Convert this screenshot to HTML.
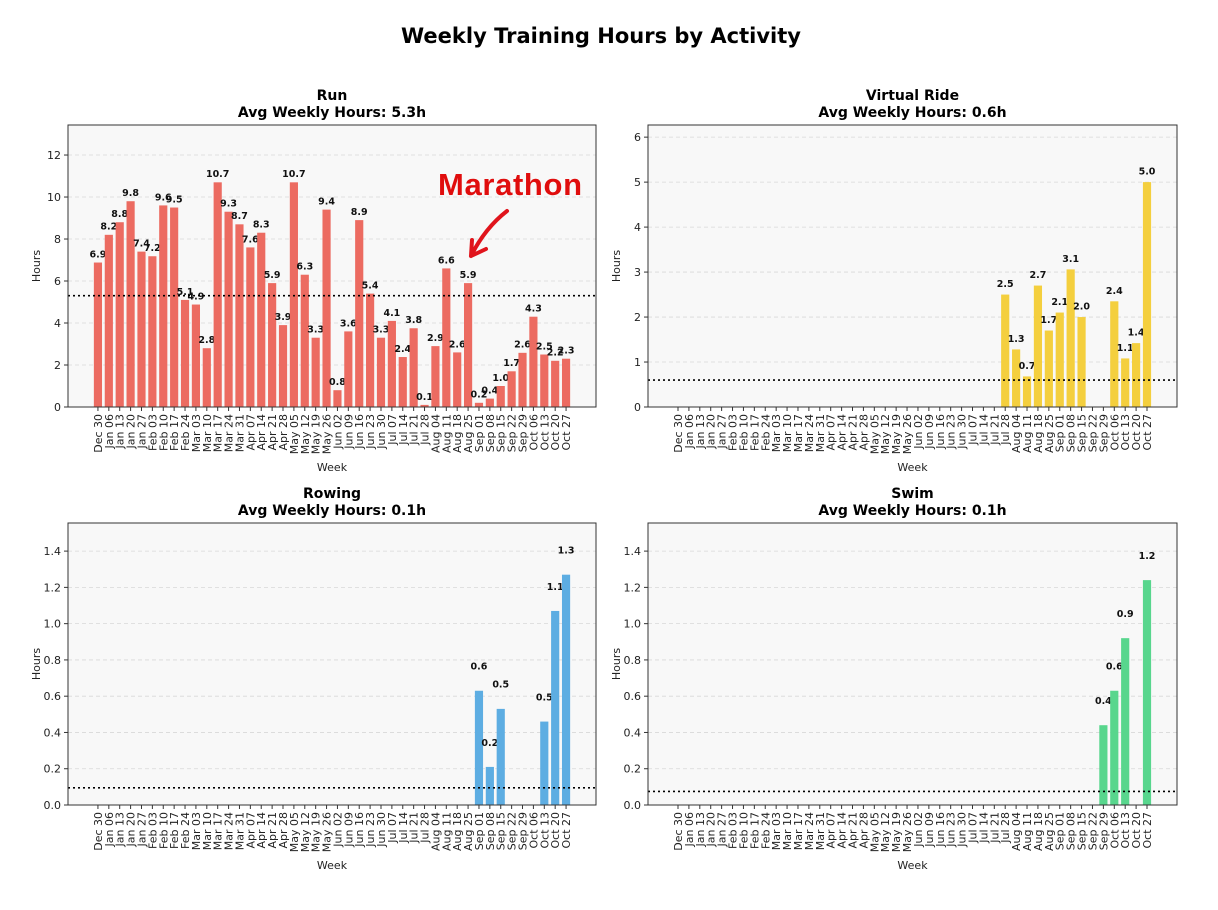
<!DOCTYPE html>
<html><head><meta charset="utf-8"><style>
body{margin:0;background:#fff;}
svg{display:block;font-family:"DejaVu Sans","Liberation Sans",sans-serif;}
</style></head><body>
<svg id="fig" width="1218" height="910" viewBox="0 0 1218 910">
<text x="601" y="43" text-anchor="middle" font-size="21" font-weight="bold">Weekly Training Hours by Activity</text>
</svg>
<script>
const weeks = ["Dec 30","Jan 06","Jan 13","Jan 20","Jan 27","Feb 03","Feb 10","Feb 17","Feb 24","Mar 03","Mar 10","Mar 17","Mar 24","Mar 31","Apr 07","Apr 14","Apr 21","Apr 28","May 05","May 12","May 19","May 26","Jun 02","Jun 09","Jun 16","Jun 23","Jun 30","Jul 07","Jul 14","Jul 21","Jul 28","Aug 04","Aug 11","Aug 18","Aug 25","Sep 01","Sep 08","Sep 15","Sep 22","Sep 29","Oct 06","Oct 13","Oct 20","Oct 27"];
const runHours = [6.88,8.2,8.8,9.8,7.4,7.18,9.6,9.5,5.1,4.88,2.8,10.7,9.3,8.7,7.6,8.3,5.9,3.9,10.7,6.3,3.3,9.4,0.8,3.6,8.9,5.4,3.3,4.1,2.38,3.75,0.1,2.9,6.6,2.6,5.9,0.2,0.4,1.0,1.7,2.58,4.3,2.5,2.2,2.3];
const rideHours = [0,0,0,0,0,0,0,0,0,0,0,0,0,0,0,0,0,0,0,0,0,0,0,0,0,0,0,0,0,0,2.5,1.28,0.68,2.7,1.7,2.1,3.06,2.0,0,0,2.35,1.08,1.42,5.0];
const rowHours = [0,0,0,0,0,0,0,0,0,0,0,0,0,0,0,0,0,0,0,0,0,0,0,0,0,0,0,0,0,0,0,0,0,0,0,0.63,0.21,0.53,0,0,0,0.46,1.07,1.27];
const swimHours = [0,0,0,0,0,0,0,0,0,0,0,0,0,0,0,0,0,0,0,0,0,0,0,0,0,0,0,0,0,0.44,0.63,0.92,0,1.24].length ? [0,0,0,0,0,0,0,0,0,0,0,0,0,0,0,0,0,0,0,0,0,0,0,0,0,0,0,0,0,0,0,0,0,0,0,0,0,0,0,0.44,0.63,0.92,0,1.24] : [];
const runTicks = [0,2,4,6,8,10,12];
const rideTicks = [0,1,2,3,4,5,6];
const smallTicks = [0,0.2,0.4,0.6,0.8,1.0,1.2,1.4];
const avgs = {run:5.3, ride:0.6, row:0.095, swim:0.075};

const NS="http://www.w3.org/2000/svg";
const svg=document.getElementById('fig');
function mk(tag,attrs,parent){const e=document.createElementNS(NS,tag);for(const k in attrs)e.setAttribute(k,attrs[k]);(parent||svg).appendChild(e);return e;}

function panel(o){
  const g=mk('g',{});
  
  
  const L=o.x0,R=o.x1,T=o.y0,B=o.y1;
  const n=weeks.length, pad=2.75;
  const xs=i=>L+(i+pad)/(n-1+2*pad)*(R-L);
  const ys=v=>B-v/o.ymax*(B-T);
  mk('rect',{x:L,y:T,width:R-L,height:B-T,fill:'#f8f8f8'},g);
  o.ticks.forEach(t=>{
    const y=ys(t);
    const gl=mk('line',{x1:L,x2:R,y1:y,y2:y,stroke:'#d8d8d8','stroke-dasharray':'4,3','stroke-width':0.8},g);
    
    
    mk('line',{x1:L-4,x2:L,y1:y,y2:y,stroke:'#333'},g);
    const tl=mk('text',{x:L-7,y:y+4,'text-anchor':'end','font-size':11,fill:'#222'},g);
    tl.textContent=o.fmt(t);
    
    
  });
  const bw=(xs(1)-xs(0))*0.75;
  o.data.forEach((v,i)=>{
    const x=xs(i);
    mk('line',{x1:x,x2:x,y1:B,y2:B+4,stroke:'#333'},g);
    const tl=mk('text',{x:0,y:0,'text-anchor':'end','font-size':11,fill:'#222',transform:`translate(${x+4},${B+7}) rotate(-90)`},g);
    tl.textContent=weeks[i];
    
    
    if(v>0){
      const r=mk('rect',{x:x-bw/2,y:ys(v),width:bw,height:B-ys(v),fill:o.color},g);
      
      
      const lb=mk('text',{x:x,y:ys(v+0.1)-3,'text-anchor':'middle','font-size':9.5,'font-weight':'bold',fill:'#111'},g);
      lb.textContent=v.toFixed(1);
      
      
    }
  });
  const al=mk('line',{x1:L,x2:R,y1:ys(o.avg),y2:ys(o.avg),stroke:'#000','stroke-dasharray':'2,3','stroke-width':1.6},g);
  
  
  mk('rect',{x:L,y:T,width:R-L,height:B-T,fill:'none',stroke:'#333','stroke-width':1},g);
  const t1=mk('text',{x:(L+R)/2,y:T-25,'text-anchor':'middle','font-size':14,'font-weight':'bold'},g);
  t1.textContent=o.title;
  
  
  const t2=mk('text',{x:(L+R)/2,y:T-8,'text-anchor':'middle','font-size':14,'font-weight':'bold'},g);
  t2.textContent=o.sub;
  
  
  const xl=mk('text',{x:(L+R)/2,y:B+64,'text-anchor':'middle','font-size':11,fill:'#222'},g);
  xl.textContent='Week';
  
  
  const yl=mk('text',{x:0,y:0,'text-anchor':'middle','font-size':11,fill:'#222',transform:`translate(${L-28},${(T+B)/2}) rotate(-90)`},g);
  yl.textContent='Hours';
  
  
}
const f0=t=>String(t), f1=t=>t.toFixed(1);
panel({name:'run',x0:68,x1:596,y0:125,y1:407,ymax:13.43,ticks:runTicks,fmt:f0,data:runHours,color:'#ec6b61',avg:avgs.run,title:'Run',sub:'Avg Weekly Hours: 5.3h'});
panel({name:'virtual-ride',x0:648,x1:1177,y0:125,y1:407,ymax:6.27,ticks:rideTicks,fmt:f0,data:rideHours,color:'#f4cf3e',avg:avgs.ride,title:'Virtual Ride',sub:'Avg Weekly Hours: 0.6h'});
panel({name:'rowing',x0:68,x1:596,y0:523,y1:805,ymax:1.555,ticks:smallTicks,fmt:f1,data:rowHours,color:'#5dade2',avg:avgs.row,title:'Rowing',sub:'Avg Weekly Hours: 0.1h'});
panel({name:'swim',x0:648,x1:1177,y0:523,y1:805,ymax:1.555,ticks:smallTicks,fmt:f1,data:swimHours,color:'#58d68d',avg:avgs.swim,title:'Swim',sub:'Avg Weekly Hours: 0.1h'});

const ann=mk('text',{x:438,y:195,'font-size':31,'font-weight':'bold',fill:'#e00d0d','font-family':'"Liberation Sans",sans-serif',textLength:144});
ann.textContent='Marathon';


const arr=mk('path',{d:'M507,211 Q485,228 471,256 M471,256 L472,240 M471,256 L486,249',fill:'none',stroke:'#e0141c','stroke-width':4,'stroke-linecap':'round'});


</script>
</body></html>
